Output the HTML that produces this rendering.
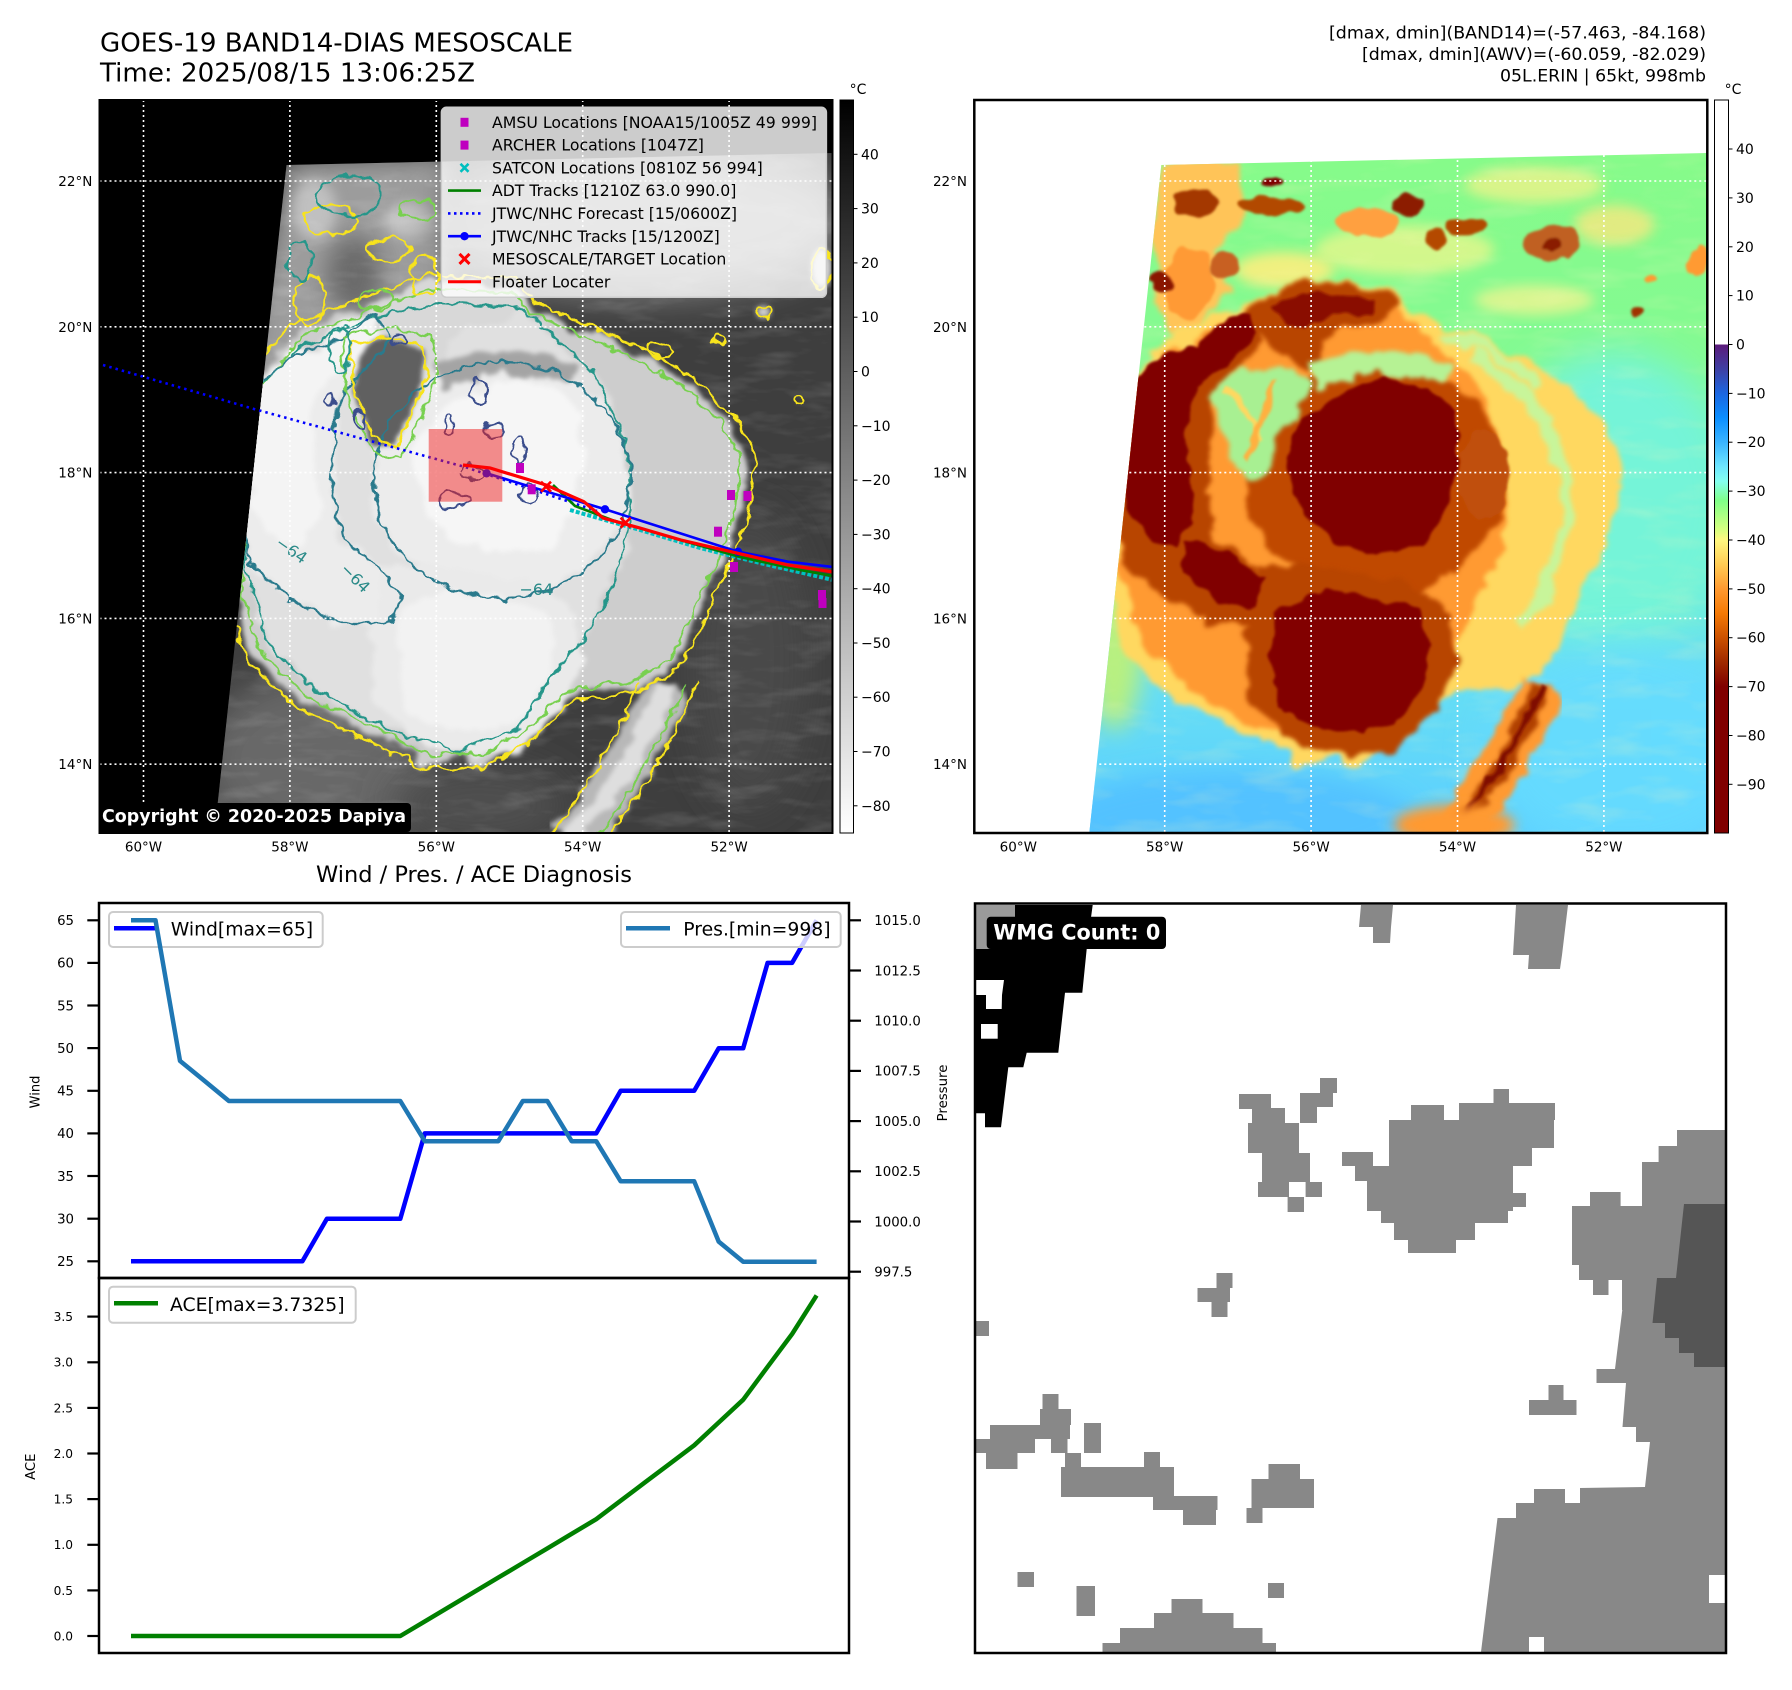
<!DOCTYPE html>
<html><head><meta charset="utf-8">
<style>
html,body{margin:0;padding:0;background:#fff;}
svg{display:block;}
text{font-family:"DejaVu Sans","Liberation Sans",sans-serif;}
</style></head><body>
<svg width="1792" height="1690" viewBox="0 0 1792 1690" xmlns="http://www.w3.org/2000/svg">
<defs>
 <clipPath id="dc"><polygon points="187,65 733,53 733,733 115,733"/></clipPath>
 <clipPath id="axL"><rect x="99.5" y="100" width="733" height="733"/></clipPath>
 <filter id="b3" x="-30%" y="-30%" width="160%" height="160%"><feGaussianBlur stdDeviation="3"/></filter>
 <filter id="b6" x="-30%" y="-30%" width="160%" height="160%"><feGaussianBlur stdDeviation="6"/></filter>
 <filter id="b12" x="-30%" y="-30%" width="160%" height="160%"><feGaussianBlur stdDeviation="12"/></filter>
 <filter id="b20" x="-40%" y="-40%" width="180%" height="180%"><feGaussianBlur stdDeviation="20"/></filter>
 <filter id="rg" x="-20%" y="-20%" width="140%" height="140%">
  <feTurbulence type="fractalNoise" baseFrequency="0.035" numOctaves="3" seed="4" result="n"/>
  <feDisplacementMap in="SourceGraphic" in2="n" scale="24" xChannelSelector="R" yChannelSelector="G" result="d"/>
  <feGaussianBlur in="d" stdDeviation="2.5"/>
 </filter>
 <filter id="rs" x="-30%" y="-30%" width="160%" height="160%">
  <feTurbulence type="fractalNoise" baseFrequency="0.05" numOctaves="2" seed="9" result="n"/>
  <feDisplacementMap in="SourceGraphic" in2="n" scale="14" xChannelSelector="R" yChannelSelector="G" result="d"/>
  <feGaussianBlur in="d" stdDeviation="1.2"/>
 </filter>
 <filter id="ct" x="-20%" y="-20%" width="140%" height="140%">
  <feTurbulence type="fractalNoise" baseFrequency="0.08" numOctaves="2" seed="2" result="n"/>
  <feDisplacementMap in="SourceGraphic" in2="n" scale="12" xChannelSelector="R" yChannelSelector="G"/>
 </filter>
 <filter id="streakW" x="0" y="0" width="100%" height="100%">
  <feTurbulence type="fractalNoise" baseFrequency="0.02 0.07" numOctaves="3" seed="7" result="n"/>
  <feColorMatrix in="n" type="matrix" values="0 0 0 0 1  0 0 0 0 1  0 0 0 0 1  2.2 0 0 0 -1.05"/>
 </filter>
 <filter id="streakY" x="0" y="0" width="100%" height="100%">
  <feTurbulence type="fractalNoise" baseFrequency="0.015 0.05" numOctaves="3" seed="11" result="n"/>
  <feColorMatrix in="n" type="matrix" values="0 0 0 0 1  0 0 0 0 0.95  0 0 0 0 0.5  2.4 0 0 0 -1.15"/>
 </filter>
 <linearGradient id="bgR" gradientUnits="userSpaceOnUse" x1="0" y1="53" x2="0" y2="733">
  <stop offset="0" stop-color="#86fb8a"/>
  <stop offset="0.3" stop-color="#84fa92"/>
  <stop offset="0.45" stop-color="#7cf6b2"/>
  <stop offset="0.6" stop-color="#72efd6"/>
  <stop offset="0.78" stop-color="#66def4"/>
  <stop offset="1" stop-color="#5ccfff"/>
 </linearGradient>
 <linearGradient id="cbL" x1="0" y1="0" x2="0" y2="1">
  <stop offset="0" stop-color="#000"/><stop offset="1" stop-color="#fff"/>
 </linearGradient>
 <linearGradient id="cbR" x1="0" y1="0" x2="0" y2="1">
  <stop offset="0" stop-color="#fff"/><stop offset="0.3333" stop-color="#fff"/>
  <stop offset="0.3334" stop-color="#5c1a7a"/><stop offset="0.3667" stop-color="#3f3fa3"/>
  <stop offset="0.4" stop-color="#1c66e0"/><stop offset="0.4333" stop-color="#0a8eff"/>
  <stop offset="0.4667" stop-color="#3ab4ff"/><stop offset="0.5" stop-color="#6ee6ff"/>
  <stop offset="0.52" stop-color="#84fff0"/><stop offset="0.5467" stop-color="#80ff88"/>
  <stop offset="0.5867" stop-color="#d8ff80"/><stop offset="0.6" stop-color="#fff880"/>
  <stop offset="0.6333" stop-color="#ffcc55"/><stop offset="0.6667" stop-color="#ff9a30"/>
  <stop offset="0.7" stop-color="#f57a05"/><stop offset="0.7333" stop-color="#cc5200"/>
  <stop offset="0.7667" stop-color="#a02a00"/><stop offset="0.8" stop-color="#800000"/>
  <stop offset="1" stop-color="#800000"/>
 </linearGradient>
 <polygon id="pHalo" points="150,285 198,230 264,205 329,182 414,186 433,207 485,231 541,254 588,282 630,322 650,360 640,424 620,471 598,518 575,565 532,588 471,595 433,633 386,660 329,662 264,630 202,602 155,558 134,494 138,376"/>
 <polygon id="pL2" points="150,292 200,248 270,218 340,202 420,207 460,240 500,282 525,340 532,420 515,482 490,532 455,572 420,626 360,652 290,630 220,592 170,546 146,470 141,380"/>
 <polygon id="pM1" points="238,290 265,272 300,268 325,270 336,284 322,312 304,340 292,378 276,384 258,360 246,326"/>
 <polygon id="pM2" points="335,262 385,250 440,252 485,268 478,285 430,275 380,278 345,290"/>
 <ellipse id="pE3" cx="402" cy="380" rx="128" ry="118"/>
 <polygon id="pW3" points="140,295 190,258 240,238 276,214 292,240 262,272 238,302 232,380 242,440 282,470 302,500 292,522 240,522 190,498 150,462 136,400"/>
 <polygon id="pS3" points="282,468 350,468 430,478 472,510 482,560 462,610 422,650 360,656 308,640 278,600 272,530"/>
 <polygon id="pN3" points="262,216 292,196 329,182 376,186 414,191 426,207 402,226 358,226 342,246 350,268 336,274 310,252 282,230"/>
 <polygon id="pE4" points="329,320 367,292 409,278 452,287 480,311 485,358 471,414 447,447 405,454 358,442 329,414 315,376 311,348"/>
 <polygon id="pW4" points="155,282 188,254 221,245 245,221 273,212 282,235 254,264 221,287 212,329 216,376 221,414 202,447 179,442 155,414 144,367 146,320"/>
 <polygon id="pSW4" points="212,438 264,456 292,480 282,508 245,504 207,471"/>
 <polygon id="pS4" points="301,513 353,489 400,499 442,508 456,541 447,588 424,621 386,631 339,626 306,607 296,565"/>
 <polygon id="pN4" points="300,205 330,192 370,194 400,200 395,215 355,216 330,228 310,222"/>
 <path id="pSE" d="M568,585 C550,630 522,682 470,740" fill="none"/>
</defs>

<rect width="1792" height="1690" fill="#fff"/>

<!-- ===== Titles ===== -->
<text x="100" y="51.7" font-size="26" textLength="473" lengthAdjust="spacingAndGlyphs">GOES-19 BAND14-DIAS MESOSCALE</text>
<text x="100" y="81.5" font-size="26" textLength="375" lengthAdjust="spacingAndGlyphs">Time: 2025/08/15 13:06:25Z</text>
<text x="1706" y="38.5" font-size="17" text-anchor="end" textLength="377" lengthAdjust="spacingAndGlyphs">[dmax, dmin](BAND14)=(-57.463, -84.168)</text>
<text x="1706" y="60" font-size="17" text-anchor="end" textLength="344" lengthAdjust="spacingAndGlyphs">[dmax, dmin](AWV)=(-60.059, -82.029)</text>
<text x="1706" y="81.5" font-size="17" text-anchor="end" textLength="206" lengthAdjust="spacingAndGlyphs">05L.ERIN | 65kt, 998mb</text>

<!-- ===== LEFT MAP ===== -->
<g transform="translate(99.5,100)">
 <rect x="0" y="0" width="733" height="733" fill="#000"/>
 <g clip-path="url(#dc)">
  <rect x="0" y="0" width="733" height="733" fill="#3e3e3e"/>
  <polygon points="187,60 350,55 350,190 300,208 250,228 215,300 170,330 140,300" fill="#9c9c9c" filter="url(#b12)"/>
  <ellipse cx="255" cy="175" rx="28" ry="40" fill="#6a6a6a" filter="url(#b12)"/>
  <ellipse cx="310" cy="120" rx="25" ry="18" fill="#c4c4c4" filter="url(#b6)"/>
  <ellipse cx="215" cy="110" rx="22" ry="30" fill="#c0c0c0" filter="url(#b6)"/>
  <ellipse cx="540" cy="120" rx="210" ry="75" fill="#8a8a8a" filter="url(#b20)"/>
  <ellipse cx="220" cy="660" rx="120" ry="90" fill="#686868" filter="url(#b20)"/>
  <ellipse cx="380" cy="705" rx="90" ry="40" fill="#505050" filter="url(#b20)"/>
  <ellipse cx="650" cy="560" rx="60" ry="150" fill="#484848" filter="url(#b20)"/>
  <rect x="0" y="0" width="733" height="733" filter="url(#streakW)" opacity="0.14"/>
  <use href="#pHalo" fill="#cdcdcd" filter="url(#rg)"/>
  <use href="#pL2" fill="#e0e0e0" filter="url(#rg)"/>
  <use href="#pE3" fill="#ececec" filter="url(#rg)"/>
  <use href="#pW3" fill="#ececec" filter="url(#rg)"/>
  <use href="#pS3" fill="#eaeaea" filter="url(#rg)"/>
  <use href="#pN3" fill="#d8d8d8" filter="url(#rg)"/>
  <polygon points="250,245 290,238 322,246 328,272 318,300 305,328 296,348 280,344 264,316 254,284" fill="#606060" filter="url(#rg)"/>
  <use href="#pM2" fill="#a4a4a4" filter="url(#rg)"/>
  <use href="#pE4" fill="#f6f6f6" filter="url(#rg)"/>
  <use href="#pW4" fill="#f4f4f4" filter="url(#rg)"/>
  <use href="#pS4" fill="#f2f2f2" filter="url(#rg)"/>
  <use href="#pSE" stroke="#b8b8b8" stroke-width="46" filter="url(#rg)"/>
  <use href="#pSE" stroke="#dedede" stroke-width="20" filter="url(#rg)"/>
  <ellipse cx="722" cy="168" rx="10" ry="20" fill="#d8d8d8" filter="url(#b3)"/>
  <ellipse cx="664" cy="212" rx="7" ry="6" fill="#d0d0d0" filter="url(#b3)"/>
  <!-- contours -->
  <g fill="none" stroke-width="2.2" filter="url(#ct)">
   <use href="#pHalo" stroke="#f7e31e" transform="translate(400,420) scale(1.03) translate(-400,-420)"/>
   <use href="#pHalo" stroke="#78d050" transform="translate(400,420) scale(0.97) translate(-400,-420)"/>
   <use href="#pL2" stroke="#26968a"/>
   <use href="#pW3" stroke="#2c7a8c"/>
   <use href="#pE3" stroke="#2c7a8c"/>
   <polygon points="250,245 290,238 322,246 328,272 318,300 305,328 296,348 280,344 264,316 254,284" stroke="#f7e31e"/>
   <polygon points="242,236 295,228 332,238 338,272 328,304 314,334 302,358 274,352 256,320 246,285" stroke="#78d050"/>
   <path d="M598,582 C578,630 552,684 505,740" stroke="#f7e31e"/>
   <path d="M538,582 C522,630 494,680 448,740" stroke="#f7e31e"/>
   <path d="M585,585 C566,630 540,682 495,740" stroke="#78d050"/>
   <ellipse cx="230" cy="120" rx="26" ry="15" stroke="#f7e31e"/>
   <ellipse cx="290" cy="150" rx="22" ry="12" stroke="#f7e31e"/>
   <ellipse cx="210" cy="200" rx="15" ry="25" stroke="#f7e31e"/>
   <ellipse cx="318" cy="110" rx="18" ry="10" stroke="#78d050"/>
   <ellipse cx="250" cy="96" rx="32" ry="20" stroke="#26968a"/>
   <ellipse cx="200" cy="160" rx="12" ry="18" stroke="#26968a"/>
   <ellipse cx="275" cy="200" rx="18" ry="10" stroke="#78d050"/>
   <ellipse cx="325" cy="175" rx="14" ry="20" stroke="#f7e31e"/>
   <ellipse cx="240" cy="250" rx="10" ry="22" stroke="#26968a"/>
   <ellipse cx="722" cy="168" rx="10" ry="20" stroke="#f7e31e"/>
   <ellipse cx="664" cy="212" rx="7" ry="6" stroke="#f7e31e"/>
   <ellipse cx="620" cy="240" rx="6" ry="5" stroke="#f7e31e"/>
   <ellipse cx="700" cy="300" rx="5" ry="5" stroke="#f7e31e"/>
   <ellipse cx="560" cy="250" rx="12" ry="8" stroke="#f7e31e"/>
   <g stroke="#3a4e8c">
    <ellipse cx="380" cy="290" rx="8" ry="14"/><ellipse cx="395" cy="330" rx="10" ry="8"/>
    <ellipse cx="420" cy="350" rx="6" ry="12"/><ellipse cx="372" cy="372" rx="12" ry="7"/>
    <ellipse cx="350" cy="325" rx="5" ry="9"/><ellipse cx="430" cy="395" rx="8" ry="10"/>
    <ellipse cx="260" cy="320" rx="6" ry="8"/><ellipse cx="230" cy="300" rx="5" ry="7"/>
    <ellipse cx="300" cy="240" rx="6" ry="6"/><ellipse cx="355" cy="400" rx="14" ry="8"/>
   </g>
  </g>
  <g fill="#2a8a88" font-size="16">
   <text x="175" y="445" transform="rotate(35 175 445)">−64</text>
   <text x="240" y="470" transform="rotate(45 240 470)">−64</text>
   <text x="420" y="495">−64</text>
  </g>
 </g>
 <g stroke="#fff" stroke-width="1.6" stroke-dasharray="2,3" fill="none">
  <line x1="44" y1="0" x2="44" y2="733"/><line x1="190.4" y1="0" x2="190.4" y2="733"/>
  <line x1="336.8" y1="0" x2="336.8" y2="733"/><line x1="483.2" y1="0" x2="483.2" y2="733"/>
  <line x1="629.6" y1="0" x2="629.6" y2="733"/>
  <line x1="0" y1="81" x2="733" y2="81"/><line x1="0" y1="226.8" x2="733" y2="226.8"/>
  <line x1="0" y1="372.6" x2="733" y2="372.6"/><line x1="0" y1="518.4" x2="733" y2="518.4"/>
  <line x1="0" y1="664.2" x2="733" y2="664.2"/>
 </g>
</g>
<!-- tracks -->
<g clip-path="url(#axL)">
 <path d="M103,365 L254,409 L465,467 L597,511" fill="none" stroke="#0000ff" stroke-width="2.6" stroke-dasharray="2.5,4"/>
 <path d="M570,510 L640,530 L700,548 L760,563 L833,580" fill="none" stroke="#00c0c0" stroke-width="4" stroke-dasharray="4,2"/>
 <path d="M553,485 L575,506 L612,520 L680,540 L740,557 L800,570 L833,576" fill="none" stroke="#008000" stroke-width="2.6"/>
 <path d="M486.6,473.3 L605,509.3 L738,551.7 L788,561.7 L833,567" fill="none" stroke="#0000ff" stroke-width="2.6"/>
 <g fill="#0000ff"><circle cx="486.6" cy="473.3" r="4.2"/><circle cx="605" cy="509.3" r="4.2"/><circle cx="738" cy="551.7" r="4.2"/></g>
 <rect x="428.7" y="429" width="73.6" height="72.7" fill="#ee2020" opacity="0.5"/>
 <path d="M463,465 L490,468 L546,485 L584,501.7 L603,518 L640,528 L681,540 L731,551.7 L788,565 L833,572" fill="none" stroke="#ff0000" stroke-width="3.2"/>
 <g fill="#bf00bf">
  <rect x="516" y="463" width="8" height="10"/><rect x="527.7" y="484.3" width="8" height="10"/>
  <rect x="727" y="490" width="8" height="10"/><rect x="743.5" y="491" width="8" height="10"/>
  <rect x="714" y="526.7" width="8" height="10"/><rect x="730" y="562" width="8" height="10"/>
  <rect x="818" y="590" width="8" height="10"/><rect x="818.5" y="598" width="8" height="10"/>
 </g>
 <g stroke="#ff0000" stroke-width="2.6">
  <path d="M541,481.7 L551,491.7 M551,481.7 L541,491.7"/>
  <path d="M620.6,517.7 L630.6,527.7 M630.6,517.7 L620.6,527.7"/>
 </g>
</g>
<!-- legend -->
<rect x="441.4" y="107.3" width="385" height="190" rx="5" fill="#fff" fill-opacity="0.8" stroke="#ccc" stroke-width="1.5"/>
<g font-size="15.7" fill="#000">
 <rect x="460.5" y="117.8" width="8" height="9" fill="#bf00bf"/>
 <text x="492" y="128" textLength="325" lengthAdjust="spacingAndGlyphs">AMSU Locations [NOAA15/1005Z 49 999]</text>
 <rect x="460.5" y="140.6" width="8" height="9" fill="#bf00bf"/>
 <text x="492" y="150.7">ARCHER Locations [1047Z]</text>
 <path d="M460.5,163.8 L468.5,171.8 M468.5,163.8 L460.5,171.8" stroke="#00bfbf" stroke-width="2.6"/>
 <text x="492" y="173.4">SATCON Locations [0810Z 56 994]</text>
 <line x1="448" y1="190.6" x2="481" y2="190.6" stroke="#008000" stroke-width="2.6"/>
 <text x="492" y="196.2">ADT Tracks [1210Z 63.0 990.0]</text>
 <line x1="448" y1="213.4" x2="481" y2="213.4" stroke="#0000ff" stroke-width="2.6" stroke-dasharray="2.5,3.5"/>
 <text x="492" y="219">JTWC/NHC Forecast [15/0600Z]</text>
 <line x1="448" y1="236.2" x2="481" y2="236.2" stroke="#0000ff" stroke-width="2.6"/>
 <circle cx="464.5" cy="236.2" r="4.2" fill="#0000ff"/>
 <text x="492" y="241.8">JTWC/NHC Tracks [15/1200Z]</text>
 <path d="M459.5,253.9 L469.5,263.9 M469.5,253.9 L459.5,263.9" stroke="#ff0000" stroke-width="3"/>
 <text x="492" y="264.5">MESOSCALE/TARGET Location</text>
 <line x1="448" y1="281.7" x2="481" y2="281.7" stroke="#ff0000" stroke-width="3"/>
 <text x="492" y="287.3">Floater Locater</text>
</g>
<rect x="100" y="803" width="311" height="29" rx="4" fill="#000"/>
<text x="102" y="822" font-size="17.4" font-weight="bold" fill="#fff" textLength="304" lengthAdjust="spacingAndGlyphs">Copyright © 2020-2025 Dapiya</text>
<rect x="99.5" y="100" width="733" height="733" fill="none" stroke="#000" stroke-width="2"/>

<!-- left colorbar -->
<rect x="840" y="100" width="13.5" height="733" fill="url(#cbL)" stroke="#000" stroke-width="1"/>
<text x="858" y="94" font-size="14" text-anchor="middle">°C</text>
<g font-size="14" fill="#000">
 <text x="861" y="159.3">40</text><text x="861" y="213.6">30</text><text x="861" y="267.9">20</text>
 <text x="861" y="322.2">10</text><text x="861" y="376.5">0</text><text x="861" y="430.8">−10</text>
 <text x="861" y="485.1">−20</text><text x="861" y="539.4">−30</text><text x="861" y="593.7">−40</text>
 <text x="861" y="648">−50</text><text x="861" y="702.2">−60</text><text x="861" y="756.5">−70</text>
 <text x="861" y="810.8">−80</text>
</g>
<g stroke="#000" stroke-width="1">
 <line x1="853.5" y1="154.3" x2="857.5" y2="154.3"/><line x1="853.5" y1="208.6" x2="857.5" y2="208.6"/>
 <line x1="853.5" y1="262.9" x2="857.5" y2="262.9"/><line x1="853.5" y1="317.2" x2="857.5" y2="317.2"/>
 <line x1="853.5" y1="371.5" x2="857.5" y2="371.5"/><line x1="853.5" y1="425.8" x2="857.5" y2="425.8"/>
 <line x1="853.5" y1="480.1" x2="857.5" y2="480.1"/><line x1="853.5" y1="534.4" x2="857.5" y2="534.4"/>
 <line x1="853.5" y1="588.7" x2="857.5" y2="588.7"/><line x1="853.5" y1="643" x2="857.5" y2="643"/>
 <line x1="853.5" y1="697.2" x2="857.5" y2="697.2"/><line x1="853.5" y1="751.5" x2="857.5" y2="751.5"/>
 <line x1="853.5" y1="805.8" x2="857.5" y2="805.8"/>
</g>

<!-- left map tick labels -->
<g font-size="13.5" text-anchor="end">
 <text x="92.3" y="186">22°N</text><text x="92.3" y="331.8">20°N</text><text x="92.3" y="477.6">18°N</text>
 <text x="92.3" y="623.4">16°N</text><text x="92.3" y="769.2">14°N</text>
</g>
<g font-size="13.5" text-anchor="middle">
 <text x="143.5" y="851.5">60°W</text><text x="289.9" y="851.5">58°W</text><text x="436.3" y="851.5">56°W</text>
 <text x="582.7" y="851.5">54°W</text><text x="729.1" y="851.5">52°W</text>
</g>

<!-- ===== RIGHT MAP ===== -->
<g transform="translate(974.3,100)">
 <g clip-path="url(#dc)">
  <rect x="0" y="0" width="733" height="733" fill="url(#bgR)"/>
  <ellipse cx="640" cy="400" rx="120" ry="150" fill="#74f4d8" filter="url(#b20)"/>
  <ellipse cx="650" cy="650" rx="140" ry="110" fill="#66dcff" opacity="0.8" filter="url(#b20)"/>
  <ellipse cx="260" cy="720" rx="180" ry="50" fill="#52c2ff" filter="url(#b12)"/>
  <ellipse cx="140" cy="530" rx="30" ry="100" fill="#b8f080" filter="url(#b12)"/>
  <ellipse cx="430" cy="150" rx="90" ry="25" fill="#e6f78c" opacity="0.8" filter="url(#b6)"/>
  <ellipse cx="560" cy="85" rx="70" ry="18" fill="#eef38a" opacity="0.8" filter="url(#b6)"/>
  <ellipse cx="640" cy="125" rx="40" ry="20" fill="#f8e880" opacity="0.8" filter="url(#b6)"/>
  <ellipse cx="310" cy="170" rx="50" ry="18" fill="#f0f080" filter="url(#b6)"/>
  <ellipse cx="560" cy="200" rx="60" ry="15" fill="#d8f690" filter="url(#b6)"/>
  <rect x="0" y="0" width="733" height="733" filter="url(#streakY)" opacity="0.2"/>
  <polygon points="188,62 265,60 268,110 245,150 258,190 225,225 192,235 180,160" fill="#ffc458" filter="url(#rg)"/>
  <ellipse cx="215" cy="185" rx="25" ry="35" fill="#ff9a35" filter="url(#rs)"/>
  <use href="#pHalo" fill="#ffd860" filter="url(#rg)"/>
  <use href="#pL2" fill="#ff9a30" filter="url(#rg)"/>
  <use href="#pE3" fill="#c04a00" filter="url(#rg)"/>
  <use href="#pW3" fill="#b84400" filter="url(#rg)"/>
  <use href="#pS3" fill="#b84400" filter="url(#rg)"/>
  <use href="#pN3" fill="#b84400" filter="url(#rg)"/>
  <use href="#pM1" fill="#a8f092" filter="url(#rg)"/>
  <path d="M250,290 Q275,300 285,340" fill="none" stroke="#ffd860" stroke-width="6" filter="url(#rs)"/>
  <path d="M300,280 Q290,320 270,360" fill="none" stroke="#ffb040" stroke-width="6" filter="url(#rs)"/>
  <use href="#pM2" fill="#b6f294" filter="url(#rg)"/>
  <path d="M500,255 Q575,300 590,380 Q595,450 550,525" fill="none" stroke="#c8f59a" stroke-width="14" filter="url(#rg)"/>
  <path d="M470,235 Q540,250 560,290" fill="none" stroke="#c8f59a" stroke-width="10" filter="url(#rg)"/>
  <ellipse cx="510" cy="375" rx="25" ry="45" fill="#c05010" filter="url(#rs)"/>
  <use href="#pE4" fill="#800000" filter="url(#rs)"/>
  <use href="#pW4" fill="#800000" filter="url(#rs)"/>
  <use href="#pSW4" fill="#800000" filter="url(#rs)"/>
  <use href="#pS4" fill="#820200" filter="url(#rs)"/>
  <use href="#pN4" fill="#8a1000" filter="url(#rs)"/>
  <use href="#pSE" stroke="#ff9a30" stroke-width="46" filter="url(#rg)"/>
  <use href="#pSE" stroke="#b04000" stroke-width="18" filter="url(#rg)"/>
  <use href="#pSE" stroke="#801000" stroke-width="6" filter="url(#rs)"/>
  <ellipse cx="480" cy="725" rx="60" ry="20" fill="#ff9a30" filter="url(#b6)"/>
  <g filter="url(#rs)">
   <ellipse cx="222" cy="102" rx="22" ry="14" fill="#a43800"/>
   <ellipse cx="296" cy="106" rx="32" ry="9" fill="#b24a00"/>
   <ellipse cx="393" cy="122" rx="32" ry="14" fill="#ffa040"/>
   <ellipse cx="433" cy="106" rx="15" ry="12" fill="#8c1a00"/>
   <ellipse cx="490" cy="127" rx="20" ry="9" fill="#b24a00"/>
   <ellipse cx="578" cy="143" rx="28" ry="17" fill="#c06020"/>
   <ellipse cx="578" cy="145" rx="10" ry="8" fill="#8a1a00"/>
   <ellipse cx="188" cy="181" rx="10" ry="8" fill="#8a1800"/>
   <ellipse cx="250" cy="165" rx="14" ry="14" fill="#c86020"/>
   <ellipse cx="461" cy="139" rx="9" ry="11" fill="#b44a00"/>
   <ellipse cx="724" cy="162" rx="9" ry="17" fill="#ff9a30"/>
   <ellipse cx="664" cy="213" rx="6" ry="5" fill="#a03000"/>
   <ellipse cx="675" cy="178" rx="8" ry="5" fill="#ff9a30"/>
   <ellipse cx="298" cy="82" rx="9" ry="5" fill="#800000"/>
  </g>
 </g>
 <g stroke="#fff" stroke-width="1.6" stroke-dasharray="2,3" fill="none">
  <line x1="44" y1="0" x2="44" y2="733"/><line x1="190.4" y1="0" x2="190.4" y2="733"/>
  <line x1="336.8" y1="0" x2="336.8" y2="733"/><line x1="483.2" y1="0" x2="483.2" y2="733"/>
  <line x1="629.6" y1="0" x2="629.6" y2="733"/>
  <line x1="0" y1="81" x2="733" y2="81"/><line x1="0" y1="226.8" x2="733" y2="226.8"/>
  <line x1="0" y1="372.6" x2="733" y2="372.6"/><line x1="0" y1="518.4" x2="733" y2="518.4"/>
  <line x1="0" y1="664.2" x2="733" y2="664.2"/>
 </g>
 <rect x="0" y="0" width="733" height="733" fill="none" stroke="#000" stroke-width="2.5"/>
</g>
<g font-size="13.5" text-anchor="end">
 <text x="967" y="186">22°N</text><text x="967" y="331.8">20°N</text><text x="967" y="477.6">18°N</text>
 <text x="967" y="623.4">16°N</text><text x="967" y="769.2">14°N</text>
</g>
<g font-size="13.5" text-anchor="middle">
 <text x="1018.3" y="851.5">60°W</text><text x="1164.7" y="851.5">58°W</text><text x="1311.1" y="851.5">56°W</text>
 <text x="1457.5" y="851.5">54°W</text><text x="1603.9" y="851.5">52°W</text>
</g>
<!-- right colorbar -->
<rect x="1714.5" y="100" width="14" height="733" fill="url(#cbR)" stroke="#000" stroke-width="1"/>
<text x="1733" y="94" font-size="14" text-anchor="middle">°C</text>
<g font-size="14">
 <text x="1736" y="154">40</text><text x="1736" y="202.9">30</text><text x="1736" y="251.8">20</text>
 <text x="1736" y="300.6">10</text><text x="1736" y="349.5">0</text><text x="1736" y="398.4">−10</text>
 <text x="1736" y="447.2">−20</text><text x="1736" y="496.1">−30</text><text x="1736" y="545">−40</text>
 <text x="1736" y="593.9">−50</text><text x="1736" y="642.7">−60</text><text x="1736" y="691.6">−70</text>
 <text x="1736" y="740.5">−80</text><text x="1736" y="789.3">−90</text>
</g>
<g stroke="#000" stroke-width="1">
 <line x1="1728.5" y1="149" x2="1732.5" y2="149"/><line x1="1728.5" y1="197.9" x2="1732.5" y2="197.9"/>
 <line x1="1728.5" y1="246.8" x2="1732.5" y2="246.8"/><line x1="1728.5" y1="295.6" x2="1732.5" y2="295.6"/>
 <line x1="1728.5" y1="344.5" x2="1732.5" y2="344.5"/><line x1="1728.5" y1="393.4" x2="1732.5" y2="393.4"/>
 <line x1="1728.5" y1="442.2" x2="1732.5" y2="442.2"/><line x1="1728.5" y1="491.1" x2="1732.5" y2="491.1"/>
 <line x1="1728.5" y1="540" x2="1732.5" y2="540"/><line x1="1728.5" y1="588.9" x2="1732.5" y2="588.9"/>
 <line x1="1728.5" y1="637.7" x2="1732.5" y2="637.7"/><line x1="1728.5" y1="686.6" x2="1732.5" y2="686.6"/>
 <line x1="1728.5" y1="735.5" x2="1732.5" y2="735.5"/><line x1="1728.5" y1="784.3" x2="1732.5" y2="784.3"/>
</g>

<!-- ===== WIND / PRES chart ===== -->
<text x="474" y="882" font-size="22.3" text-anchor="middle" textLength="316" lengthAdjust="spacingAndGlyphs">Wind / Pres. / ACE Diagnosis</text>
<path d="M131,1261.3 L302.4,1261.3 L326.9,1218.7 L400.3,1218.7 L424.8,1133.4 L596.2,1133.4 L620.7,1090.8 L694.2,1090.8 L718.7,1048.2 L743.2,1048.2 L767.6,962.9 L792.1,962.9 L816.6,920.3" fill="none" stroke="#0000ff" stroke-width="4.5" stroke-linejoin="round"/>
<rect x="109" y="912" width="213.7" height="35" rx="4" fill="#fff" fill-opacity="0.8" stroke="#ccc" stroke-width="2"/>
<line x1="114" y1="928.3" x2="157.3" y2="928.3" stroke="#0000ff" stroke-width="4.5"/>
<text x="170.7" y="935.5" font-size="18.8">Wind[max=65]</text>
<path d="M131,920.3 L155.5,920.3 L180,1060.9 L204.5,1080.9 L228.9,1101 L400.3,1101 L424.8,1141.2 L498.3,1141.2 L522.8,1101 L547.3,1101 L571.7,1141.2 L596.2,1141.2 L620.7,1181.3 L694.2,1181.3 L718.7,1241.6 L743.2,1261.7 L816.6,1261.7" fill="none" stroke="#1f77b4" stroke-width="4.5" stroke-linejoin="round"/>
<rect x="621" y="912" width="219.7" height="35" rx="4" fill="#fff" fill-opacity="0.8" stroke="#ccc" stroke-width="2"/>
<line x1="626" y1="928.3" x2="670" y2="928.3" stroke="#1f77b4" stroke-width="4.5"/>
<text x="683.3" y="935.5" font-size="18.8">Pres.[min=998]</text>
<rect x="99" y="903" width="750" height="375" fill="none" stroke="#000" stroke-width="2.5"/>
<g stroke="#000" stroke-width="2.2">
 <line x1="87.3" y1="920.3" x2="99" y2="920.3"/><line x1="87.3" y1="962.9" x2="99" y2="962.9"/>
 <line x1="87.3" y1="1005.5" x2="99" y2="1005.5"/><line x1="87.3" y1="1048.1" x2="99" y2="1048.1"/>
 <line x1="87.3" y1="1090.8" x2="99" y2="1090.8"/><line x1="87.3" y1="1133.4" x2="99" y2="1133.4"/>
 <line x1="87.3" y1="1176" x2="99" y2="1176"/><line x1="87.3" y1="1218.7" x2="99" y2="1218.7"/>
 <line x1="87.3" y1="1261.3" x2="99" y2="1261.3"/>
 <line x1="849" y1="920.3" x2="861" y2="920.3"/><line x1="849" y1="970.5" x2="861" y2="970.5"/>
 <line x1="849" y1="1020.7" x2="861" y2="1020.7"/><line x1="849" y1="1070.9" x2="861" y2="1070.9"/>
 <line x1="849" y1="1121.1" x2="861" y2="1121.1"/><line x1="849" y1="1171.3" x2="861" y2="1171.3"/>
 <line x1="849" y1="1221.5" x2="861" y2="1221.5"/><line x1="849" y1="1271.7" x2="861" y2="1271.7"/>
</g>
<g font-size="13.3" text-anchor="end">
 <text x="74" y="925.1">65</text><text x="74" y="967.7">60</text><text x="74" y="1010.3">55</text>
 <text x="74" y="1052.9">50</text><text x="74" y="1095.6">45</text><text x="74" y="1138.2">40</text>
 <text x="74" y="1180.8">35</text><text x="74" y="1223.5">30</text><text x="74" y="1266.1">25</text>
</g>
<g font-size="13.3">
 <text x="874.3" y="925.1">1015.0</text><text x="874.3" y="975.3">1012.5</text><text x="874.3" y="1025.5">1010.0</text>
 <text x="874.3" y="1075.7">1007.5</text><text x="874.3" y="1125.9">1005.0</text><text x="874.3" y="1176.1">1002.5</text>
 <text x="874.3" y="1226.3">1000.0</text><text x="874.3" y="1276.5">997.5</text>
</g>
<text x="39.5" y="1092" font-size="13" text-anchor="middle" transform="rotate(-90 39.5 1092)">Wind</text>
<text x="947" y="1093" font-size="13.3" text-anchor="middle" transform="rotate(-90 947 1093)">Pressure</text>

<!-- ===== ACE chart ===== -->
<path d="M131,1636 L400.3,1636 L424.8,1621.4 L449.3,1606.8 L473.8,1592.2 L498.3,1577.6 L522.8,1563 L547.3,1548.4 L571.7,1533.8 L596.2,1519.2 L620.7,1500.7 L645.2,1482.2 L669.7,1463.8 L694.2,1445.3 L718.7,1422.5 L743.2,1399.7 L767.6,1366.8 L792.1,1334 L816.6,1295.4" fill="none" stroke="#008000" stroke-width="4.5" stroke-linejoin="round"/>
<rect x="109" y="1286.7" width="246.7" height="36" rx="4" fill="#fff" fill-opacity="0.8" stroke="#ccc" stroke-width="2"/>
<line x1="114" y1="1303.3" x2="158" y2="1303.3" stroke="#008000" stroke-width="4.5"/>
<text x="170" y="1311" font-size="18.8">ACE[max=3.7325]</text>
<rect x="99" y="1278" width="750" height="375" fill="none" stroke="#000" stroke-width="2.5"/>
<g stroke="#000" stroke-width="2.2">
 <line x1="87.3" y1="1636" x2="99" y2="1636"/><line x1="87.3" y1="1590.4" x2="99" y2="1590.4"/>
 <line x1="87.3" y1="1544.8" x2="99" y2="1544.8"/><line x1="87.3" y1="1499.1" x2="99" y2="1499.1"/>
 <line x1="87.3" y1="1453.5" x2="99" y2="1453.5"/><line x1="87.3" y1="1407.9" x2="99" y2="1407.9"/>
 <line x1="87.3" y1="1362.3" x2="99" y2="1362.3"/><line x1="87.3" y1="1316.6" x2="99" y2="1316.6"/>
</g>
<g font-size="12.2" text-anchor="end">
 <text x="73" y="1640.4">0.0</text><text x="73" y="1594.8">0.5</text><text x="73" y="1549.2">1.0</text>
 <text x="73" y="1503.5">1.5</text><text x="73" y="1457.9">2.0</text><text x="73" y="1412.3">2.5</text>
 <text x="73" y="1366.7">3.0</text><text x="73" y="1321">3.5</text>
</g>
<text x="35" y="1466.7" font-size="13.2" text-anchor="middle" transform="rotate(-90 35 1466.7)">ACE</text>

<!-- ===== BOTTOM RIGHT (WMG) ===== -->
<g>
 <polygon points="975,905 1092.7,905 1086.7,949 1082.3,992.7 1065,992.7 1058.3,1052.7 1026.7,1052.7 1023.3,1067.3 1008.3,1067.3 1001,1127.3 985,1127.3 985,1113.3 975,1113.3" fill="#000"/>
 <rect x="976" y="905" width="39" height="44" fill="#9a9a9a"/>
 <polygon points="976,980 1004,980 1002,995 1001.7,1009 986,1009 986,995 976,995" fill="#fff"/>
 <rect x="981" y="1024" width="16.7" height="14.7" fill="#fff"/>
 <g fill="#888">
  <polygon points="1361,905 1393,905 1391,927 1390,943 1373,943 1373,927 1359,927"/>
  <polygon points="1516,905 1568,905 1562,955 1560,969 1528,969 1529,955 1513,955"/>
  <rect x="1239" y="1094" width="32" height="15"/><rect x="1252" y="1108" width="33" height="15"/>
  <rect x="1248" y="1123" width="51" height="30"/><rect x="1262" y="1153" width="48" height="29"/>
  <rect x="1258" y="1182" width="31" height="15"/><rect x="1305.6" y="1182" width="16.4" height="15"/>
  <rect x="1287.6" y="1197" width="16.4" height="15"/><rect x="1300" y="1093" width="17" height="30"/>
  <rect x="1304" y="1093" width="29" height="14"/><rect x="1320" y="1078" width="17" height="15"/>
  <rect x="1342" y="1152" width="31" height="14"/><rect x="1355" y="1166" width="18" height="15"/>
  <rect x="1367" y="1166" width="146" height="45"/><rect x="1389" y="1120" width="165" height="28"/>
  <rect x="1411" y="1105" width="33" height="15"/><rect x="1459" y="1103" width="96" height="17"/>
  <rect x="1493.5" y="1089" width="15.5" height="14"/><rect x="1389" y="1148" width="143" height="18"/>
  <rect x="1511.5" y="1193" width="14.5" height="14"/><rect x="1381" y="1211" width="127" height="12"/>
  <rect x="1394" y="1223" width="81" height="17"/><rect x="1408" y="1240" width="48" height="13"/>
  <rect x="1677" y="1130" width="49" height="16"/><rect x="1658.6" y="1146" width="67.4" height="16"/>
  <rect x="1642" y="1162" width="84" height="44"/><rect x="1590" y="1192" width="30.6" height="14"/>
  <rect x="1572" y="1206" width="154" height="59"/><rect x="1579" y="1265" width="147" height="15"/>
  <rect x="1593" y="1280" width="15.5" height="15"/><rect x="1622" y="1280" width="104" height="30"/>
  <polygon points="1626,1270 1726,1270 1726,1652 1481,1652 1497.5,1518 1516,1518 1516,1503 1580,1503 1580,1488 1645,1487 1650,1442 1636,1442 1636,1427 1622.5,1427 1626,1383 1596.5,1383 1596.5,1369 1615,1369 1626,1280"/>
  <rect x="1534" y="1489" width="31" height="14"/>
  <rect x="1216.5" y="1273" width="16" height="15"/><rect x="1197.5" y="1288" width="32.5" height="14"/>
  <rect x="1211.5" y="1302" width="16" height="15"/>
  <rect x="975" y="1321" width="14" height="15"/>
  <rect x="1548.5" y="1385" width="15" height="15"/><rect x="1529" y="1400" width="47.5" height="15"/>
  <rect x="1042.5" y="1394" width="16" height="15"/><rect x="1040" y="1409" width="31" height="16"/>
  <rect x="990" y="1425" width="80" height="14"/><rect x="975" y="1439" width="60" height="14"/>
  <rect x="1051" y="1439" width="16.5" height="14"/><rect x="986" y="1453" width="31.5" height="16"/>
  <rect x="1084" y="1423" width="17" height="30"/>
  <rect x="1065" y="1453" width="16" height="15"/><rect x="1061" y="1467" width="113" height="30"/>
  <rect x="1144" y="1452" width="16" height="15"/><rect x="1153" y="1496" width="64.5" height="14"/>
  <rect x="1183" y="1510" width="33" height="15"/>
  <rect x="1268.5" y="1464" width="31.5" height="15"/><rect x="1251.5" y="1479" width="62.5" height="29"/>
  <rect x="1246.5" y="1508" width="16" height="15"/>
  <rect x="1017.5" y="1572" width="16.5" height="15"/><rect x="1076.5" y="1586" width="18.5" height="30"/>
  <rect x="1268" y="1583" width="16" height="15"/>
  <rect x="1171.5" y="1599" width="31" height="14"/><rect x="1154" y="1613" width="79.5" height="15"/>
  <rect x="1120" y="1628" width="142.5" height="15"/><rect x="1102.5" y="1643" width="173.5" height="10"/>
 </g>
 <polygon points="1684,1204 1726,1204 1726,1367 1694,1367 1694,1353 1679,1353 1679,1338 1665,1338 1665,1323 1652.5,1323 1657,1278 1676,1278" fill="#555"/>
 <rect x="1709" y="1575" width="17" height="28" fill="#fff"/>
 <rect x="1529" y="1637" width="15" height="15" fill="#fff"/>
 <rect x="986.7" y="916.7" width="179.3" height="32.3" rx="4" fill="#000"/>
 <text x="993.3" y="939.5" font-size="21" font-weight="bold" fill="#fff" textLength="167" lengthAdjust="spacingAndGlyphs">WMG Count: 0</text>
 <rect x="975" y="903.5" width="751" height="749.5" fill="none" stroke="#000" stroke-width="2.5"/>
</g>
</svg>
</body></html>
